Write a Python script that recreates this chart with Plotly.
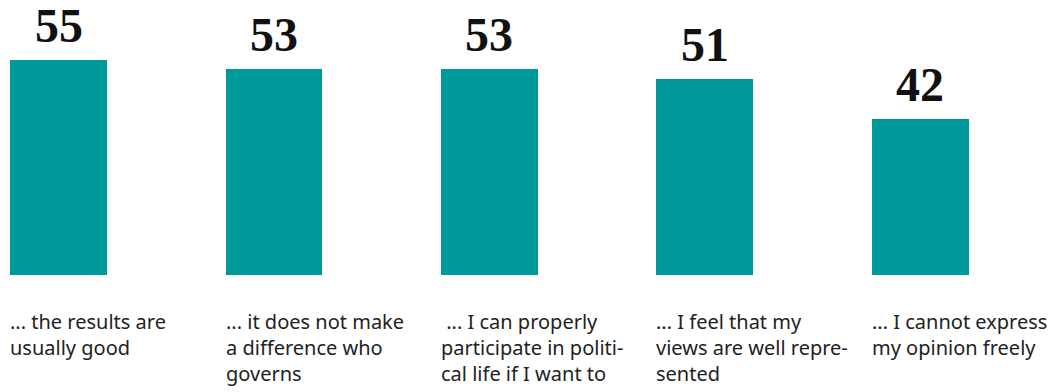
import plotly.graph_objects as go

categories = [
    "... the results are<br>usually good",
    "... it does not make<br>a difference who<br>governs",
    " ... I can properly<br>participate in politi-<br>cal life if I want to",
    "... I feel that my<br>views are well repre-<br>sented",
    "... I cannot express<br>my opinion freely",
]
values = [55, 53, 53, 51, 42]

BAR_COLOR = "#009999"
BAR_WIDTH = 0.45
xs = list(range(len(values)))

fig = go.Figure(
    go.Bar(
        x=xs,
        y=values,
        width=BAR_WIDTH,
        marker=dict(color=BAR_COLOR, line=dict(width=0)),
        hoverinfo="skip",
    )
)

annotations = []
for x, v, cat in zip(xs, values, categories):
    # value above each bar
    annotations.append(dict(
        x=x, y=v, xref="x", yref="y",
        text=f"<b>{v}</b>", showarrow=False,
        xanchor="center", yanchor="bottom", yshift=6,
        font=dict(family="Liberation Serif", size=48, color="#111111"),
    ))
    # category caption below each bar, left-aligned to the bar edge
    annotations.append(dict(
        x=x - BAR_WIDTH / 2, y=0, xref="x", yref="paper",
        text=cat, showarrow=False, align="left",
        xanchor="left", yanchor="top", yshift=-31, xshift=-2,
        font=dict(family="Noto Sans", size=20, color="#222222"),
    ))

fig.update_layout(
    width=1056, height=392,
    margin=dict(l=0, r=0, t=0, b=117),
    paper_bgcolor="white", plot_bgcolor="white",
    showlegend=False,
    xaxis=dict(range=[-0.2715, 4.629], visible=False, fixedrange=True),
    yaxis=dict(range=[7.7, 68.3], visible=False, fixedrange=True),
    annotations=annotations,
    bargap=0,
)

fig.write_html("out.html")
